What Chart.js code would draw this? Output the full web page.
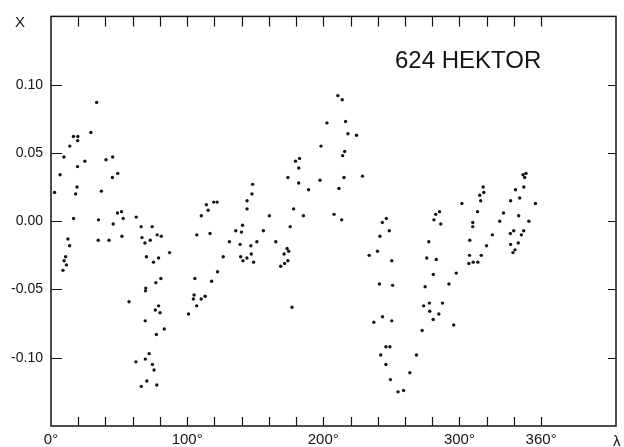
<!DOCTYPE html>
<html>
<head>
<meta charset="utf-8">
<script src="https://cdn.jsdelivr.net/npm/chart.js@4"></script>
<style>
  html, body { margin: 0; padding: 0; background: #fff; }
  #wrap { width: 624px; height: 447px; }
</style>
</head>
<body>
<div id="wrap"><canvas id="myChart"></canvas></div>
<script>
const lam = [
  2.6, 6.7, 8.8, 9.5, 9.6, 10.7, 11.3, 12.4, 13.7, 13.8, 16.5, 16.6, 18.1, 19.1, 19.5, 19.6, 19.7,
  24.9, 29.3, 33.6, 34.7, 34.9, 37.0, 40.4, 42.6, 45.1, 45.3, 45.7, 48.8, 49.0, 51.8, 52.1, 53.0,
  57.3, 62.4, 62.6, 66.2, 66.3, 66.8, 69.0, 69.2, 69.3, 69.4, 69.6, 70.1, 70.4, 72.1, 72.9, 74.3,
  74.5, 75.3, 75.7, 76.6, 77.0, 77.4, 77.7, 78.0, 79.0, 79.0, 80.1, 80.7, 81.0, 83.2, 87.1,
  101.0, 104.6, 105.1, 105.7, 107.0, 107.1, 110.3, 110.4, 113.2, 114.1, 115.4, 116.8, 118.0, 119.5,
  122.0, 122.3, 126.5, 131.0, 135.7, 138.9, 139.3, 139.9, 140.7, 141.0, 143.9, 144.0, 144.0, 146.8,
  147.1, 147.6, 148.1, 148.8, 151.2, 156.0, 160.4, 165.1, 168.7, 171.2, 171.6, 173.4, 174.0, 174.0,
  174.6, 175.7, 177.0, 178.2, 179.6, 181.9, 182.0, 182.6, 185.4, 189.2, 197.6, 198.3, 202.7, 207.9, 210.7,
  211.5, 213.5, 213.9, 214.2, 215.2, 215.7, 216.4, 218.1, 224.4, 228.8,
  233.7, 237.1, 239.8, 241.3, 241.6, 242.2, 243.4, 243.5, 246.0, 246.0, 246.3, 248.5, 248.9, 249.3,
  250.3, 250.3, 250.9, 254.9, 259.0, 263.6, 268.4, 272.6, 273.7, 274.8, 276.0, 277.5, 277.9, 278.2,
  280.7, 280.8, 281.3, 282.6, 283.0, 284.9, 285.4, 286.3, 287.6, 292.3, 295.8, 297.7,
  301.8, 306.9, 307.4, 307.6, 309.8, 309.8, 310.1, 313.3, 313.5, 314.9, 315.6, 316.0, 317.4, 317.9,
  319.9, 324.2, 329.6, 332.4, 337.4, 337.6, 337.6, 339.3, 339.9, 340.8, 341.2, 343.2, 343.5, 344.3,
  345.5, 346.7, 347.2, 347.3, 347.9, 348.9, 351.0, 355.8
];
const xval = [
  0.021, 0.034, -0.036, 0.047, -0.029, -0.026, -0.032, -0.013, -0.018, 0.055, 0.062, 0.002, 0.020, 0.025, 0.040, 0.059, 0.062,
  0.044, 0.065, 0.087, -0.014, 0.001, 0.022, 0.045, -0.014, 0.032, 0.047, -0.002, 0.006, 0.035, 0.007, -0.011, 0.002,
  -0.059, -0.103, 0.003, -0.004, -0.121, -0.012, -0.016, -0.073, -0.101, -0.051, -0.049, -0.026, -0.117, -0.097, -0.014, -0.004,
  -0.105, -0.030, -0.109, -0.065, -0.045, -0.083, -0.120, -0.010, -0.027, -0.062, -0.067, -0.042, -0.011, -0.079, -0.023,
  -0.068, -0.057, -0.054, -0.042, -0.062, -0.010, -0.057, 0.004, -0.055, 0.012, 0.008, -0.009, -0.044, 0.014,
  0.014, -0.037, -0.026, -0.015, -0.007, -0.017, -0.026, -0.008, -0.003, -0.029, -0.027, 0.015, 0.009, -0.018,
  -0.024, 0.020, 0.027, -0.030, -0.015, -0.007, 0.004, -0.015, -0.033, -0.024, -0.031, -0.020, -0.029, 0.032,
  -0.022, -0.004, -0.063, 0.009, 0.044, 0.028, 0.039, 0.046, 0.004, 0.023, 0.030, 0.055, 0.072, 0.005, 0.092,
  0.024, 0.001, 0.089, 0.048, 0.032, 0.051, 0.073, 0.064, 0.063, 0.033,
  -0.025, -0.074, -0.022, -0.046, -0.011, -0.098, -0.001, -0.070, -0.092, -0.105, 0.002, -0.007, -0.092, -0.116,
  -0.029, -0.073, -0.047, -0.125, -0.124, -0.111, -0.098, -0.080, -0.062, -0.048, -0.027, -0.015, -0.060, -0.066,
  -0.072, -0.039, 0.001, 0.005, -0.028, -0.068, 0.007, -0.002, -0.060, -0.046, -0.076, -0.038,
  0.013, -0.031, -0.025, -0.014, -0.001, -0.004, -0.030, 0.007, -0.030, 0.019, 0.015, -0.025, 0.025, 0.021,
  -0.018, -0.010, 0.000, 0.006, -0.009, 0.015, -0.017, -0.023, -0.007, -0.021, 0.023, -0.016, 0.004, 0.017,
  -0.010, 0.034, -0.007, 0.025, 0.032, 0.035, 0.000, 0.013
];

const xTicks = [0, 20, 40, 60, 80, 100, 120, 140, 160, 180, 200, 220, 240, 260, 280, 300, 320, 340, 360];
const xLabels = { 0: '0°', 100: '100°', 200: '200°', 300: '300°', 360: '360°' };
const yTicks = [-0.10, -0.05, 0.00, 0.05, 0.10];

const ink = '#141414';
const font = 'Liberation Sans';

const pts = lam.map((v, i) => ({ x: v, y: xval[i] }));

// frame, inward tick marks and the free text
const frame = {
  id: 'frame',
  afterDraw(chart) {
    const { ctx, chartArea: a, scales: { x, y } } = chart;
    ctx.save();
    ctx.strokeStyle = ink;
    ctx.lineWidth = 1.5;
    ctx.strokeRect(a.left, a.top, a.right - a.left, a.bottom - a.top);
    ctx.lineWidth = 1.2;
    ctx.beginPath();
    xTicks.forEach(v => {
      if (v === 0) return;
      const px = Math.round(x.getPixelForValue(v)) + 0.5;
      ctx.moveTo(px, a.bottom); ctx.lineTo(px, a.bottom - 9);
      ctx.moveTo(px, a.top); ctx.lineTo(px, a.top + 10);
    });
    yTicks.forEach(v => {
      const py = Math.round(y.getPixelForValue(v)) + 0.5;
      ctx.moveTo(a.left, py); ctx.lineTo(a.left + 11, py);
      ctx.moveTo(a.right, py); ctx.lineTo(a.right - 8, py);
    });
    ctx.stroke();
    ctx.fillStyle = ink;
    ctx.textBaseline = 'alphabetic';
    ctx.font = '15px "' + font + '"';
    ctx.fillText('X', 15, 27);
    ctx.fillText('λ', 613, 446);
    ctx.font = '24px "' + font + '"';
    ctx.fillText('624 HEKTOR', 395, 68);
    ctx.restore();
  }
};

new Chart(document.getElementById('myChart'), {
  type: 'scatter',
  data: {
    datasets: [{
      data: pts,
      pointRadius: 1.7,
      pointBackgroundColor: ink,
      pointBorderWidth: 0
    }]
  },
  options: {
    responsive: true,
    maintainAspectRatio: false,
    animation: false,
    events: [],
    layout: { padding: { top: 14, right: 8, left: 0, bottom: 0 } },
    plugins: { legend: { display: false }, tooltip: { enabled: false } },
    scales: {
      x: {
        type: 'linear',
        min: 0,
        max: 415,
        afterBuildTicks: s => { s.ticks = xTicks.map(v => ({ value: v })); },
        afterFit: s => { s.height = 21; },
        grid: { display: false, drawTicks: false },
        border: { display: false },
        ticks: {
          autoSkip: false,
          maxRotation: 0,
          padding: 5,
          color: ink,
          font: { family: font, size: 15 },
          callback: v => xLabels[v] || ''
        }
      },
      y: {
        min: -0.15,
        max: 0.15,
        afterBuildTicks: s => { s.ticks = yTicks.map(v => ({ value: v })); },
        afterFit: s => { s.width = 51; },
        grid: { display: false, drawTicks: false },
        border: { display: false },
        ticks: {
          padding: 8,
          color: ink,
          font: { family: font, size: 14 },
          callback: v => v.toFixed(2)
        }
      }
    }
  },
  plugins: [frame]
});
</script>
</body>
</html>
